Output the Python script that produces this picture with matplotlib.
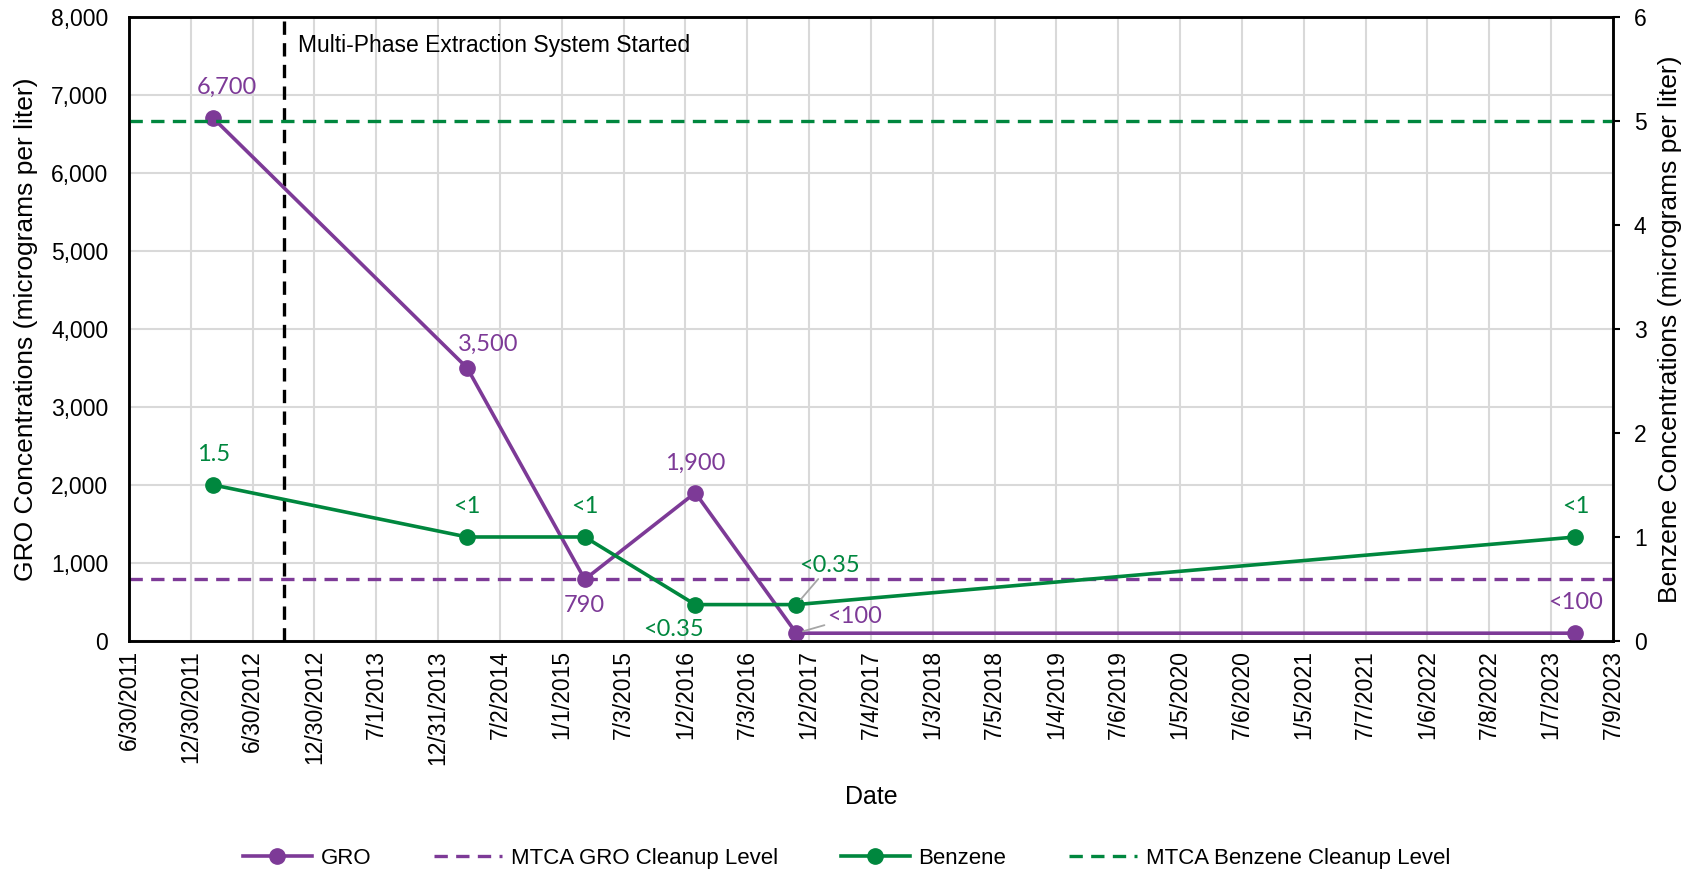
import matplotlib
matplotlib.use("Agg")
import matplotlib.pyplot as plt
import matplotlib.dates as mdates
from matplotlib.lines import Line2D
from datetime import date, timedelta

# sample dates and results
sample_dates = [date(2012, 3, 6), date(2014, 3, 27), date(2015, 3, 10),
                date(2016, 1, 31), date(2016, 11, 25), date(2023, 3, 20)]
gro_values = [6700, 3500, 790, 1900, 100, 100]
gro_labels = ["6,700", "3,500", "790", "1,900", "<100", "<100"]
benzene_values = [1.5, 1, 1, 0.35, 0.35, 1]
benzene_labels = ["1.5", "<1", "<1", "<0.35", "<0.35", "<1"]

gro_cleanup = 800
benzene_cleanup = 5
mpe_start = date(2012, 10, 1)

axis_start = date(2011, 6, 30)
axis_step_days = 183
n_ticks = 25

PURPLE = "#7D3A97"
GREEN = "#00873E"
DASH = (0, (4, 2.5))
LABEL_FONT = ["Lato", "DejaVu Sans"]

plt.rcParams["font.family"] = ["Liberation Sans", "DejaVu Sans"]

fig = plt.figure(figsize=(16.97, 8.74), dpi=100)
ax = fig.add_axes([0.0760, 0.2666, 0.8745, 0.714])
ax2 = ax.twinx()

tick_dates = [axis_start + timedelta(days=axis_step_days * k) for k in range(n_ticks)]
ax.set_xlim(mdates.date2num(tick_dates[0]), mdates.date2num(tick_dates[-1]))
ax.set_xticks([mdates.date2num(d) for d in tick_dates])
ax.set_xticklabels([f"{d.month}/{d.day}/{d.year}" for d in tick_dates], rotation=90, fontsize=16.5)
ax.tick_params(axis="x", length=0, pad=6.5)

ax.set_ylim(0, 8000)
ax.set_yticks(range(0, 8001, 1000))
ax.set_yticklabels([f"{v:,}" for v in range(0, 8001, 1000)], fontsize=16.5)
ax.tick_params(axis="y", length=0, pad=15)
ax2.set_ylim(0, 6)
ax2.set_yticks(range(0, 7))
ax2.tick_params(axis="y", labelsize=16.5, length=5, width=1.5, pad=10)

ax.grid(True, color="#D9D9D9", linewidth=1.5)
ax.set_axisbelow(True)
for a in (ax, ax2):
    for s in a.spines.values():
        s.set_linewidth(1.8)
        s.set_color("black")

xd = [mdates.date2num(d) for d in sample_dates]

ax.axhline(gro_cleanup, color=PURPLE, linestyle=DASH, linewidth=2.4)
ax2.axhline(benzene_cleanup, color=GREEN, linestyle=DASH, linewidth=2.4)
ax.axvline(mdates.date2num(mpe_start), color="black", linestyle=DASH, linewidth=2.4)
ax.text(mdates.date2num(mpe_start) + 40, 7640, "Multi-Phase Extraction System Started",
        fontsize=16.5, va="center", ha="left")

ax.plot(xd, gro_values, color=PURPLE, linewidth=2.6, marker="o", markersize=11, zorder=3)
ax2.plot(xd, benzene_values, color=GREEN, linewidth=2.6, marker="o", markersize=11, zorder=3)

# data labels (offsets in points)
gro_offsets = [(10, 22), (15, 17), (0, -19), (0, 21), (42, 12), (0, 22)]
benzene_offsets = [(0, 22), (0, 22), (0, 22), (-16, -18), (24, 28), (0, 22)]
leader = dict(arrowstyle="-", color="#A6A6A6", linewidth=1.3, shrinkA=0, shrinkB=5)

for i, (x, y, t) in enumerate(zip(xd, gro_values, gro_labels)):
    ax.annotate(t, (x, y), xytext=gro_offsets[i], textcoords="offset points",
                ha="center", va="center", color=PURPLE, fontsize=17, family=LABEL_FONT,
                arrowprops=leader if i == 4 else None, zorder=5)
for i, (x, y, t) in enumerate(zip(xd, benzene_values, benzene_labels)):
    ax2.annotate(t, (x, y), xytext=benzene_offsets[i], textcoords="offset points",
                 ha="center", va="center", color=GREEN, fontsize=17, family=LABEL_FONT,
                 arrowprops=leader if i == 4 else None, zorder=5)

ax.set_ylabel("GRO Concentrations (micrograms per liter)", fontsize=19, ha="center", va="center")
ax.yaxis.set_label_coords(-0.0694, 0.5)
ax2.set_ylabel("Benzene Concentrations (micrograms per liter)", fontsize=19, ha="center", va="center")
ax2.yaxis.set_label_coords(1.0384, 0.5)
ax.set_xlabel("Date", fontsize=18, va="center")
ax.xaxis.set_label_coords(0.5, -0.25)

handles = [
    Line2D([], [], color=PURPLE, linewidth=2.6, marker="o", markersize=11),
    Line2D([], [], color=PURPLE, linewidth=2.4, linestyle=DASH),
    Line2D([], [], color=GREEN, linewidth=2.6, marker="o", markersize=11),
    Line2D([], [], color=GREEN, linewidth=2.4, linestyle=DASH),
]
names = ["GRO", "MTCA GRO Cleanup Level", "Benzene", "MTCA Benzene Cleanup Level"]
fig.legend(handles, names, loc="center", bbox_to_anchor=(0.499, 0.018), ncol=4,
           frameon=False, fontsize=16, handlelength=3.1, handletextpad=0.4, columnspacing=2.8)

fig.savefig("out.png", dpi=100)
